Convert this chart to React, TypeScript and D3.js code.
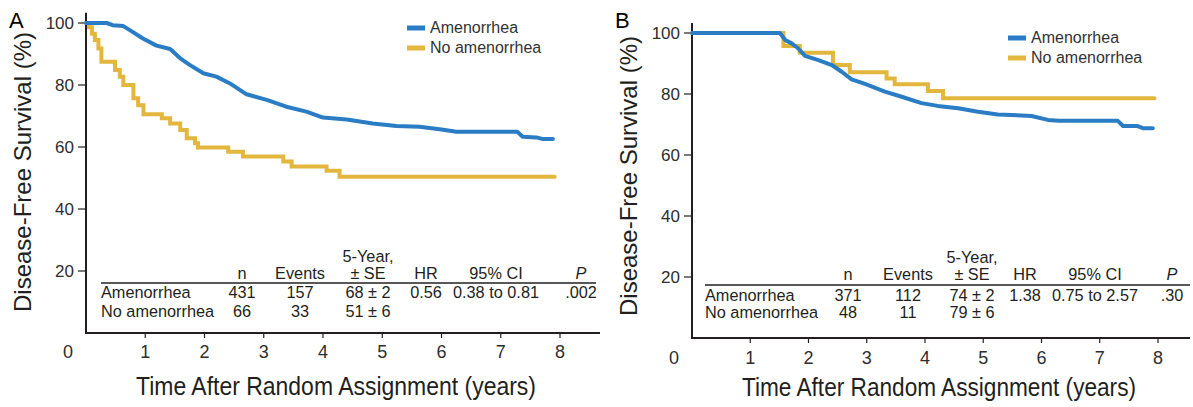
import React from "react";
import * as d3 from "d3";

// Kaplan-Meier readings (years, % disease-free)
const A_AMEN_T = [0, 0.35, 0.45, 0.63, 0.74, 0.96, 1.19, 1.42, 1.59, 1.75, 1.98, 2.2, 2.43, 2.71, 3.05, 3.38, 3.72, 4.0, 4.4, 4.84, 5.24, 5.63, 5.97, 6.25, 7.28, 7.37, 7.6, 7.7, 7.88];
const A_AMEN_S = [100, 100, 99.3, 99, 97.7, 95, 92.7, 91.6, 88.6, 86.5, 83.8, 82.7, 80.5, 77, 75.2, 73, 71.4, 69.5, 68.9, 67.6, 66.8, 66.5, 65.7, 64.9, 64.9, 63.3, 63.1, 62.6, 62.6];
const A_NOAM_T = [0, 0.05, 0.1, 0.15, 0.21, 0.26, 0.49, 0.57, 0.63, 0.8, 0.88, 0.97, 1.28, 1.42, 1.59, 1.7, 1.84, 1.89, 2.4, 2.65, 3.33, 3.47, 4.06, 4.28, 7.91];
const A_NOAM_S = [100, 98.6, 96.5, 94.5, 91.8, 87.5, 84.8, 82.7, 80, 75.7, 73.5, 70.6, 69.3, 67.6, 65.5, 62.8, 61.2, 59.8, 58.5, 56.9, 55.3, 53.7, 52.3, 50.4, 50.4];

const B_AMEN_T = [0, 1.51, 1.6, 1.71, 1.82, 1.94, 2.17, 2.4, 2.57, 2.74, 2.97, 3.31, 3.6, 3.94, 4.22, 4.57, 4.91, 5.25, 5.83, 6.11, 6.3, 7.31, 7.4, 7.65, 7.74, 7.91];
const B_AMEN_S = [100, 100, 97.7, 96.6, 95, 92.5, 91.1, 89.5, 87.3, 84.8, 83.3, 80.8, 79.1, 77, 76.1, 75.3, 74.2, 73.3, 72.8, 71.5, 71.2, 71.2, 69.5, 69.5, 68.8, 68.8];
const B_NOAM_T = [0, 1.57, 1.85, 2.42, 2.71, 3.34, 3.48, 4.05, 4.31, 7.94];
const B_NOAM_S = [100, 95.7, 93.5, 89.5, 87.1, 85.1, 83.2, 81, 78.6, 78.6];

const X_TICKS = [1, 2, 3, 4, 5, 6, 7, 8];
const Y_TICKS = [20, 40, 60, 80, 100];
const SERIES_NAMES = ["Amenorrhea", "No amenorrhea"];
const TABLE_HEAD = ["n", "Events", "± SE", "HR", "95% CI", "P"];
const A_ROWS = [
  ["431", "157", "68 ± 2", "0.56", "0.38 to 0.81", ".002"],
  ["66", "33", "51 ± 6", "", "", ""],
];
const B_ROWS = [
  ["371", "112", "74 ± 2", "1.38", "0.75 to 2.57", ".30"],
  ["48", "11", "79 ± 6", "", "", ""],
];

const BLUE = "#2a7dc4";
const GOLD = "#e3b63e";
const INK = "#231f20";
const SANS = "'Liberation Sans', Arial, Helvetica, sans-serif";

const zip = (t: number[], s: number[]) => t.map((v, i) => [v, s[i]] as [number, number]);

function Panel({ cfg }: { cfg: any }) {
  const x = d3.scaleLinear().domain([0, 8]).range([cfg.x0, cfg.x8]);
  const y = d3.scaleLinear().domain([0, 100]).range([cfg.y0, cfg.y100]);
  const stepLine = d3.line<[number, number]>().x((d) => x(d[0])).y((d) => y(d[1])).curve(d3.curveStepAfter);
  const slopeLine = d3.line<[number, number]>().x((d) => x(d[0])).y((d) => y(d[1]));
  const t = cfg.table;
  return (
    <g>
      <text x={cfg.letterX} y={28} fontFamily={SANS} fontSize={22} fill="#000">{cfg.letter}</text>
      {/* axes */}
      <line x1={x(0)} x2={x(0)} y1={y(0)} y2={y(103.3)} stroke={INK} strokeWidth={2} />
      <line x1={x(0) - 1} x2={cfg.xEnd} y1={y(0)} y2={y(0)} stroke={INK} strokeWidth={2} />
      {Y_TICKS.map((v) => (
        <g key={v}>
          <line x1={x(0) - 8} x2={x(0)} y1={y(v)} y2={y(v)} stroke={INK} strokeWidth={1.2} />
          <text x={x(0) - 12} y={y(v)} dy="0.35em" textAnchor="end" fontFamily={SANS} fontSize={17} fill="#2e2e2e">{v}</text>
        </g>
      ))}
      {X_TICKS.map((v) => (
        <g key={v}>
          <line x1={x(v)} x2={x(v)} y1={y(0)} y2={y(0) + 5} stroke={INK} strokeWidth={1.2} />
          <text x={x(v)} y={cfg.tickBase} textAnchor="middle" fontFamily={SANS} fontSize={18} fill="#2e2e2e">{v}</text>
        </g>
      ))}
      <text x={x(0) - 18} y={cfg.tickBase} textAnchor="middle" fontFamily={SANS} fontSize={18} fill="#2e2e2e">0</text>
      <text x={cfg.xTitleX} y={cfg.xTitleY} textAnchor="middle" fontFamily={SANS} fontSize={25} fill={INK}
        textLength={cfg.xTitleLen} lengthAdjust="spacingAndGlyphs">Time After Random Assignment (years)</text>
      <text transform={`translate(${cfg.yTitleX},${cfg.yTitleY}) rotate(-90)`} textAnchor="middle" fontFamily={SANS} fontSize={24} fill={INK}>Disease-Free Survival (%)</text>
      {/* curves */}
      <path d={stepLine(zip(cfg.noT, cfg.noS)) || ""} fill="none" stroke={GOLD} strokeWidth={4} strokeLinecap="round" />
      <path d={slopeLine(zip(cfg.amT, cfg.amS)) || ""} fill="none" stroke={BLUE} strokeWidth={4} strokeLinecap="round" strokeLinejoin="round" />
      {/* legend */}
      {SERIES_NAMES.map((name, i) => (
        <g key={name}>
          <line x1={cfg.legX} x2={cfg.legX + 18} y1={cfg.legY + i * 20} y2={cfg.legY + i * 20} stroke={i === 0 ? BLUE : GOLD} strokeWidth={5} />
          <text x={cfg.legX + 23} y={cfg.legY + i * 20 + 5} fontFamily={SANS} fontSize={16} fill="#333">{name}</text>
        </g>
      ))}
      {/* table */}
      <g fontFamily={SANS} fontSize={16.3} fill={INK}>
        <text x={t.cols[2]} y={t.yHead1} textAnchor="middle">5-Year,</text>
        {TABLE_HEAD.map((h, i) => (
          <text key={h} x={t.cols[i]} y={t.yHead2} textAnchor="middle" fontStyle={h === "P" ? "italic" : "normal"}>{h}</text>
        ))}
        <line x1={t.left} x2={t.right} y1={t.yLine} y2={t.yLine} stroke={INK} strokeWidth={1.5} />
        {t.rows.map((row: string[], r: number) => (
          <g key={r}>
            <text x={t.left} y={t.yRows[r]}>{SERIES_NAMES[r]}</text>
            {row.map((c, i) => (
              <text key={i} x={t.cols[i]} y={t.yRows[r]} textAnchor="middle">{c}</text>
            ))}
          </g>
        ))}
      </g>
    </g>
  );
}

const PANEL_A = {
  letter: "A", letterX: 9,
  x0: 86, x8: 560, xEnd: 600, y0: 333, y100: 23,
  tickBase: 358, xTitleX: 336, xTitleY: 395, xTitleLen: 400, yTitleX: 31, yTitleY: 172,
  amT: A_AMEN_T, amS: A_AMEN_S, noT: A_NOAM_T, noS: A_NOAM_S,
  legX: 407, legY: 28,
  table: { cols: [242, 300, 368, 426, 496, 581], left: 101, right: 596, yHead1: 262, yHead2: 279, yLine: 283, yRows: [298, 317], rows: A_ROWS },
};
const PANEL_B = {
  letter: "B", letterX: 615,
  x0: 692, x8: 1158, xEnd: 1190, y0: 338, y100: 33,
  tickBase: 364, xTitleX: 939, xTitleY: 396, xTitleLen: 394, yTitleX: 637, yTitleY: 176,
  amT: B_AMEN_T, amS: B_AMEN_S, noT: B_NOAM_T, noS: B_NOAM_S,
  legX: 1008, legY: 38,
  table: { cols: [848, 908, 972, 1025, 1095, 1172], left: 705, right: 1190, yHead1: 263, yHead2: 280, yLine: 285, yRows: [301, 318], rows: B_ROWS },
};

export default function App() {
  return (
    <svg width={1193} height={407} style={{ position: "absolute", left: 0, top: 0, background: "#fff" }}>
      <Panel cfg={PANEL_A} />
      <Panel cfg={PANEL_B} />
    </svg>
  );
}
